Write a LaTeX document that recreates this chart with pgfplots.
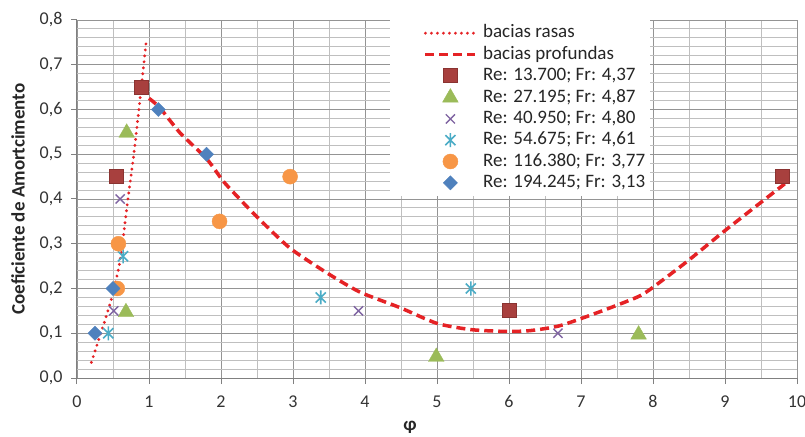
\documentclass[border=0pt]{standalone}
\usepackage{pgfplots}
\pgfplotsset{compat=1.18}
\usepackage{fontspec}
\setmainfont{Carlito}
\definecolor{sqfill}{HTML}{A8403E}
\definecolor{sqdraw}{HTML}{8A3331}
\definecolor{trig}{HTML}{9BBB59}
\definecolor{xpur}{HTML}{7F64A2}
\definecolor{stcy}{HTML}{4BACC6}
\definecolor{cior}{HTML}{F79646}
\definecolor{dibl}{HTML}{4F81BD}
\definecolor{lred}{HTML}{E52225}
\pgfdeclareplotmark{exstar}{%
 \pgfpathmoveto{\pgfqpoint{-0.72\pgfplotmarksize}{-0.72\pgfplotmarksize}}%
 \pgfpathlineto{\pgfqpoint{0.72\pgfplotmarksize}{0.72\pgfplotmarksize}}%
 \pgfpathmoveto{\pgfqpoint{-0.72\pgfplotmarksize}{0.72\pgfplotmarksize}}%
 \pgfpathlineto{\pgfqpoint{0.72\pgfplotmarksize}{-0.72\pgfplotmarksize}}%
 \pgfpathmoveto{\pgfqpoint{0pt}{-\pgfplotmarksize}}%
 \pgfpathlineto{\pgfqpoint{0pt}{\pgfplotmarksize}}%
 \pgfusepathqstroke}
\pgfplotsset{
 lineleg/.style={legend image code/.code={\path[draw=none,fill=none] (0pt,0pt) -- (80pt,0pt); \draw[##1] (30pt,0pt) -- (80pt,0pt);}},
 markleg/.style={legend image code/.code={\path[draw=none,fill=none] (0pt,0pt) -- (80pt,0pt); \draw[##1] plot coordinates {(55pt,0pt)};}},
}
\begin{document}
\begin{tikzpicture}
\begin{axis}[
  scale only axis, width=720pt, height=358pt,
  xmin=0, xmax=10, ymin=0, ymax=0.8,
  xtick={0,1,2,3,4,5,6,7,8,9,10},
  ytick={0,0.1,0.2,0.3,0.4,0.5,0.6,0.7,0.8},
  minor x tick num=1, minor y tick num=4,
  grid=both,
  major grid style={color=black!42, line width=0.9pt},
  minor grid style={color=black!25, line width=0.9pt},
  axis x line=bottom, axis y line=left,
  axis line style={-, color=black!50, line width=1pt},
  tick align=outside, major tick length=6pt, minor tick length=0pt,
  tick style={color=black!50, line width=1pt},
  /pgf/number format/assume math mode=true,
  ticklabel style={font=\fontsize{18}{20}\selectfont, color=black!80},
  yticklabel style={xshift=-5pt, /pgf/number format/.cd, fixed, fixed zerofill, precision=1, use comma},
  xticklabel style={yshift=-8pt, /pgf/number format/.cd, fixed, precision=0},
  ylabel={Coeficiente de Amortcimento},
  ylabel style={at={(axis description cs:-0.082,0.5)}, anchor=center, font=\fontsize{19}{21}\selectfont\bfseries, color=black!85},
  xlabel={φ},
  xlabel style={at={(axis description cs:0.4625,-0.137)}, anchor=center, font=\fontsize{19}{21}\selectfont\bfseries, color=black!85},
  legend style={at={(axis description cs:0.435,1)}, anchor=north west, draw=none, fill=white,
    inner xsep=5pt, inner ysep=4.5pt, row sep=4.3pt, column sep=6pt,
    font=\fontsize{19}{21}\selectfont, text=black!85,
    nodes={inner sep=0pt, text height=13pt, text depth=4pt}, cells={anchor=west}},
]
\addplot[lineleg, smooth, color=lred, line width=3.2pt, line cap=round, dash pattern=on 0pt off 6pt] coordinates {
(0.20,0.035) (0.30,0.085) (0.40,0.135) (0.50,0.19) (0.60,0.265) (0.70,0.39) (0.80,0.515) (0.90,0.66) (0.965,0.758)};
\addlegendentry{bacias rasas}
\addplot[lineleg, smooth, tension=0.4, color=lred, line width=3.5pt, dash pattern=on 9pt off 5pt] coordinates {
(1.0,0.625) (1.15,0.604) (1.43,0.548) (1.8,0.49) (2.03,0.44) (2.26,0.40) (2.5,0.36) (2.96,0.29) (3.5,0.232) (3.93,0.192) (4.49,0.157) (5.0,0.122) (5.48,0.108) (5.97,0.104) (6.3,0.106) (6.71,0.117) (7.26,0.148) (7.77,0.18) (7.96,0.198) (8.47,0.26) (9.02,0.332) (9.83,0.434)};
\addlegendentry{bacias profundas}
\addplot[markleg, only marks, mark=square*, mark size=7pt, mark options={fill=sqfill, draw=sqdraw, line width=0.8pt}] coordinates {
(0.90,0.65) (0.55,0.45) (6.01,0.15) (9.8,0.45)};
\addlegendentry{Re: 13.700; Fr: 4,37}
\addplot[markleg, only marks, mark=triangle*, mark size=9pt, mark options={fill=trig, draw=trig}] coordinates {
(0.69,0.548) (0.68,0.147) (4.99,0.047) (7.80,0.097)};
\addlegendentry{Re: 27.195; Fr: 4,87}
\addplot[markleg, only marks, mark=x, mark size=6.5pt, mark options={draw=xpur, line width=1.4pt}] coordinates {
(0.60,0.40) (0.51,0.15) (3.91,0.15) (6.68,0.10)};
\addlegendentry{Re: 40.950; Fr: 4,80}
\addplot[markleg, only marks, mark=exstar, mark size=7pt, mark options={draw=stcy, line width=1.6pt}] coordinates {
(0.64,0.272) (0.435,0.10) (3.385,0.18) (5.47,0.20)};
\addlegendentry{Re: 54.675; Fr: 4,61}
\addplot[markleg, only marks, mark=*, mark size=7.5pt, mark options={fill=cior, draw=cior}] coordinates {
(0.575,0.30) (0.56,0.20) (1.98,0.35) (2.96,0.45)};
\addlegendentry{Re: 116.380; Fr: 3,77}
\addplot[markleg, only marks, mark=square*, mark size=5pt, mark options={rotate=45, fill=dibl, draw=dibl}] coordinates {
(0.25,0.10) (0.50,0.20) (1.13,0.60) (1.80,0.50)};
\addlegendentry{Re: 194.245; Fr: 3,13}
\end{axis}
\pgfresetboundingbox
\useasboundingbox (-77pt,-58pt) rectangle (728pt,378pt);
\end{tikzpicture}
\end{document}
